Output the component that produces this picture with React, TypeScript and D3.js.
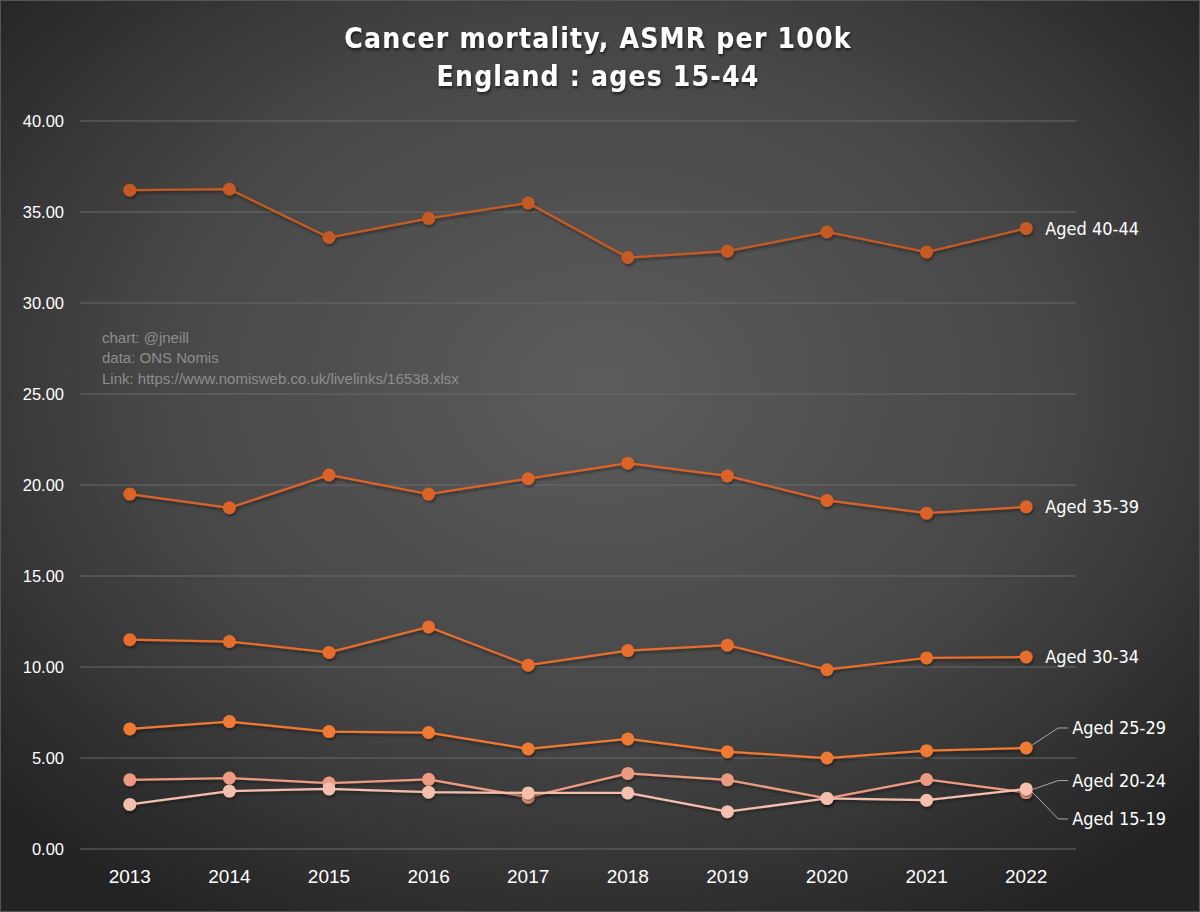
import React from "react";
import * as d3 from "d3";

const years = ["2013", "2014", "2015", "2016", "2017", "2018", "2019", "2020", "2021", "2022"];
const aged4044 = [36.2, 36.25, 33.6, 34.65, 35.5, 32.5, 32.85, 33.9, 32.8, 34.1];
const aged3539 = [19.5, 18.75, 20.55, 19.5, 20.35, 21.2, 20.5, 19.15, 18.45, 18.8];
const aged3034 = [11.5, 11.4, 10.8, 12.2, 10.1, 10.9, 11.2, 9.85, 10.5, 10.55];
const aged2529 = [6.6, 7.0, 6.45, 6.4, 5.5, 6.05, 5.35, 5.0, 5.4, 5.55];
const aged2024 = [3.8, 3.9, 3.62, 3.83, 2.85, 4.15, 3.8, 2.78, 3.82, 3.1];
const aged1519 = [2.45, 3.18, 3.3, 3.12, 3.08, 3.08, 2.05, 2.78, 2.68, 3.3];
const yTicks = [0, 5, 10, 15, 20, 25, 30, 35, 40];

const seriesNames = ["Aged 40-44", "Aged 35-39", "Aged 30-34", "Aged 25-29", "Aged 20-24", "Aged 15-19"];
const seriesValues = [aged4044, aged3539, aged3034, aged2529, aged2024, aged1519];
const seriesColors = ["#c65a22", "#dc6228", "#e86c2a", "#f07a30", "#ee9a80", "#f5bfae"];

const W = 1200;
const H = 912;
const left = 80;
const right = 1076;
const top = 121;
const bottom = 849;

export default function App() {
  const x = d3.scaleBand<string>().domain(years).range([left, right]);
  const y = d3.scaleLinear().domain([0, 40]).range([bottom, top]);
  const cx = (yr: string) => (x(yr) as number) + x.bandwidth() / 2;
  const line = d3
    .line<number>()
    .x((_, i) => cx(years[i]))
    .y((d) => y(d));

  const lastX = cx(years[years.length - 1]);
  const labelFont = "'DejaVu Sans Condensed', 'Liberation Sans Narrow', sans-serif";
  const labelFor = (i: number) => {
    const v = seriesValues[i][years.length - 1];
    const py = y(v);
    if (i <= 2) {
      return (
        <text key={"l" + i} x={lastX + 19} y={py} dy="0.35em" fill="#ffffff" fontSize={18}
          fontFamily={labelFont}>
          {seriesNames[i]}
        </text>
      );
    }
    const targetY = i === 3 ? py - 20 : i === 4 ? py - 12 : py + 30;
    const sx = lastX + 6;
    const sy = py + (i === 5 ? 3 : -3);
    return (
      <g key={"l" + i}>
        <polyline
          points={`${sx},${sy} ${lastX + 32},${targetY} ${lastX + 42},${targetY}`}
          fill="none" stroke="#a8a8a8" strokeWidth={1} />
        <text x={lastX + 46} y={targetY} dy="0.35em" fill="#ffffff" fontSize={18}
          fontFamily={labelFont}>
          {seriesNames[i]}
        </text>
      </g>
    );
  };

  return (
    <svg width={W} height={H} style={{ position: "absolute", left: 0, top: 0 }}
      xmlns="http://www.w3.org/2000/svg">
      <defs>
        <radialGradient id="bg" cx="50%" cy="42%" r="68%">
          <stop offset="0%" stopColor="#5c5c5c" />
          <stop offset="55%" stopColor="#474747" />
          <stop offset="100%" stopColor="#232323" />
        </radialGradient>
        <filter id="shadow" x="-50%" y="-50%" width="200%" height="200%">
          <feDropShadow dx="1" dy="2" stdDeviation="1.5" floodColor="#000" floodOpacity="0.45" />
        </filter>
        <filter id="tshadow" x="-10%" y="-30%" width="120%" height="160%">
          <feDropShadow dx="1" dy="2" stdDeviation="1.5" floodColor="#000" floodOpacity="0.6" />
        </filter>
      </defs>
      <rect x={0} y={0} width={W} height={H} fill="url(#bg)" />
      <rect x={0.5} y={0.5} width={W - 1} height={H - 1} fill="none" stroke="#555" strokeWidth={1} />

      <g filter="url(#tshadow)" fill="#ffffff" fontWeight="bold" fontSize={28} textAnchor="middle"
        fontFamily={labelFont} letterSpacing="1.2">
        <text x={598} y={48}>Cancer mortality, ASMR per 100k</text>
        <text x={598} y={86}>England : ages 15-44</text>
      </g>

      {yTicks.map((t) => (
        <g key={t}>
          <line x1={left} x2={right} y1={y(t)} y2={y(t)} stroke="#6a6a6a" strokeWidth={1.2} />
          <text x={64} y={y(t)} dy="0.35em" textAnchor="end" fill="#ffffff" fontSize={16.5}
            fontFamily="'Liberation Sans', Arial, sans-serif">
            {t.toFixed(2)}
          </text>
        </g>
      ))}

      {years.map((yr) => (
        <text key={yr} x={cx(yr)} y={876} dy="0.35em" textAnchor="middle" fill="#ffffff" fontSize={19}
          fontFamily="'Liberation Sans', Arial, sans-serif">
          {yr}
        </text>
      ))}

      <g fill="#8e8e8e" fontSize={15} fontFamily="'Liberation Sans', Arial, sans-serif">
        <text x={102} y={343}>chart: @jneill</text>
        <text x={102} y={363}>data: ONS Nomis</text>
        <text x={102} y={384}>Link: https://www.nomisweb.co.uk/livelinks/16538.xlsx</text>
      </g>

      {seriesValues.map((vals, i) => (
        <g key={seriesNames[i]} filter="url(#shadow)">
          <path d={line(vals) || ""} fill="none" stroke={seriesColors[i]} strokeWidth={2.25} />
          {vals.map((v, j) => (
            <circle key={j} cx={cx(years[j])} cy={y(v)} r={6.5} fill={seriesColors[i]} />
          ))}
        </g>
      ))}

      {seriesValues.map((_, i) => labelFor(i))}
    </svg>
  );
}
